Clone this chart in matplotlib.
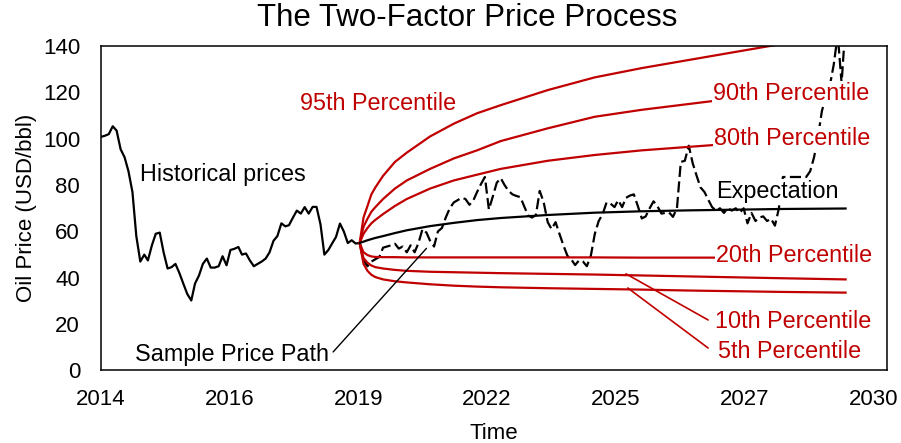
import matplotlib
matplotlib.use('Agg')
import matplotlib.pyplot as plt
import matplotlib.dates as mdates
import numpy as np
import pandas as pd

plt.rcParams['font.family'] = ['Liberation Sans', 'DejaVu Sans']

#historical monthly prices, Mar 2014 - Sep 2019
histStart = '2014-03-01'
histPrice = [100.8, 101.3, 102, 105.4, 103.5, 95.5, 92, 86, 77, 58,
             47, 50, 47.5, 54, 59, 59.5, 51, 44, 44.6, 46,
             42, 37.5, 33, 30.2, 37.5, 41, 46, 48.3, 44.4, 44.4,
             45, 49.3, 45.4, 52, 52.5, 53.3, 50, 50.5, 47.5, 45,
             46, 47, 48.3, 51, 56, 58, 63.5, 62.2, 62.7, 66,
             69, 67.7, 70.5, 67.7, 70.6, 70.6, 63, 50, 52, 55,
             57.6, 63.4, 60, 55, 56.2, 54.8, 55]

#simulated sample path, monthly from the forecast start
fcStart = '2019-09-01'
samplePath = [55, 47.5, 45, 47, 48, 49, 53, 53.5, 54, 54.7,
              52.6, 53.5, 51, 54, 51, 55, 61, 59.5, 56, 53.5,
              60, 61.5, 66, 70, 72.5, 73.5, 74.5, 74, 71.5, 73.5,
              77, 80.5, 83.5, 69.5, 75, 81, 83, 80, 77.5, 76,
              75.3, 74.8, 71, 67, 66, 67, 77.5, 72.5, 64, 61,
              64, 59, 54, 49.5, 48, 45.5, 47.5, 47, 45, 49.5,
              59, 64.5, 67.5, 72.5, 72, 70.5, 73.5, 70.5, 74.5, 75.5,
              76, 71, 65.6, 66.5, 70, 73, 70.8, 67.7, 68, 68.2,
              66.3, 70, 90, 90.5, 97, 89.5, 84, 79, 77, 73.5,
              70.5, 69, 70, 68, 70, 69, 70, 68, 70, 63.5,
              68, 64.5, 66, 66.5, 64.5, 65.5, 62.5, 70, 83.5, 83.5,
              83.5, 83.5, 83.5, 83.5, 83.5, 86, 92, 101, 112, 118,
              123, 132, 145, 124, 150]

#forecast distribution (months after forecast start)
fcMonths = [0, 1, 2, 3, 4, 6, 9, 12, 18, 24, 30, 36, 48, 60, 72, 84, 96, 108, 124]
p95 = [55, 66, 71, 76, 79, 84, 90, 94, 101, 106.5, 111, 114.5, 121, 126.5, 130.5, 134, 137.5, 141, 145]
p90 = [55, 62, 65.5, 68.5, 70.5, 74, 78.5, 82, 87, 91.5, 95, 99, 104.5, 109.5, 112.5, 115, 117.5, 119.5, 122]
p80 = [55, 59, 61.5, 63.5, 65, 67.5, 71, 74, 78.5, 82, 84.5, 87, 90.5, 93, 95, 96.5, 98, 99, 100]
expect = [55, 55.6, 56.2, 56.7, 57.2, 58, 59.3, 60.5, 62.3, 63.7, 64.9, 65.8, 67.1, 68.1, 68.7, 69.1, 69.4, 69.7, 69.9]
p20 = [55, 51, 49.8, 49.2, 49, 48.9, 48.9, 48.8, 48.8, 48.8, 48.8, 48.8, 48.8, 48.8, 48.7, 48.7, 48.7, 48.7, 48.7]
p10 = [55, 48.5, 46.5, 45.3, 44.6, 44, 43.4, 43, 42.6, 42.4, 42.2, 42, 41.7, 41.4, 41, 40.6, 40.2, 39.8, 39.3]
p5 = [55, 46, 43, 41.3, 40.3, 39.3, 38.5, 38, 37.2, 36.6, 36.2, 35.9, 35.5, 35.2, 34.9, 34.5, 34.2, 33.9, 33.6]

red = '#C00000'

histDates = pd.date_range(histStart, periods=len(histPrice), freq='MS')
pathDates = pd.date_range(fcStart, periods=len(samplePath), freq='MS')
fcDates = [pd.Timestamp(fcStart) + pd.DateOffset(months=m) for m in fcMonths]

fig = plt.figure(figsize=(9.01, 4.43), dpi=100)
ax = fig.add_axes([0.112, 0.1637, 0.8725, 0.7323])

ax.plot(histDates, histPrice, color='black', lw=1.6)
ax.plot(pathDates, samplePath, color='black', lw=1.6, dashes=(5, 2))
for q in [p95, p90, p80, p20, p10, p5]:
    ax.plot(fcDates, q, color=red, lw=1.6)
ax.plot(fcDates, expect, color='black', lw=1.6)

#axes
t0 = pd.Timestamp(histStart)
ax.set_xlim(t0, t0 + pd.Timedelta(days=6107))
ax.set_ylim(0, 140)
ax.set_yticks(range(0, 141, 20))
ax.set_xticks([t0 + pd.Timedelta(days=1000*k) for k in range(7)])
ax.xaxis.set_major_formatter(mdates.DateFormatter('%Y'))
ax.tick_params(length=0, labelsize=16)
ax.tick_params(axis='y', pad=15)
ax.tick_params(axis='x', pad=13)
for s in ax.spines.values():
    s.set_linewidth(1.1)
ax.set_xlabel('Time', fontsize=16, labelpad=10)
ax.set_ylabel('Oil Price (USD/bbl)', fontsize=16, labelpad=4)
fig.text(0.519, 1 - 18/443, 'The Two-Factor Price Process', fontsize=22.5, ha='center', va='center')

#labels
box = dict(facecolor='white', edgecolor='none', pad=1)
def lab(txt, date, y, c):
    ax.text(pd.Timestamp(date), y, txt, color=c, fontsize=16.8, ha='left', va='center',
            bbox=box, zorder=5)

lab('Historical prices', '2014-12-30', 84.4, 'black')
lab('95th Percentile', '2018-05-27', 115.2, red)
lab('90th Percentile', '2027-03-08', 119.5, red)
lab('80th Percentile', '2027-03-16', 100, red)
lab('Expectation', '2027-04-01', 77.1, 'black')
lab('20th Percentile', '2027-04-01', 49.5, red)
lab('10th Percentile', '2027-03-24', 21, red)
lab('5th Percentile', '2027-04-16', 8, red)
lab('Sample Price Path', '2014-11-21', 7.1, 'black')

#leader lines
ax.annotate('', xy=(pd.Timestamp('2021-02-01'), 52.7), xytext=(pd.Timestamp('2019-02-07'), 8),
            arrowprops=dict(arrowstyle='-', color='black', lw=1, shrinkA=0, shrinkB=0))
ax.annotate('', xy=(pd.Timestamp('2025-05-01'), 41.7), xytext=(pd.Timestamp('2027-01-29'), 21.8),
            arrowprops=dict(arrowstyle='-', color=red, lw=1.2, shrinkA=0, shrinkB=0))
ax.annotate('', xy=(pd.Timestamp('2025-05-15'), 35.6), xytext=(pd.Timestamp('2027-01-29'), 9.7),
            arrowprops=dict(arrowstyle='-', color=red, lw=1.2, shrinkA=0, shrinkB=0))

fig.savefig('out.png', dpi=100)
